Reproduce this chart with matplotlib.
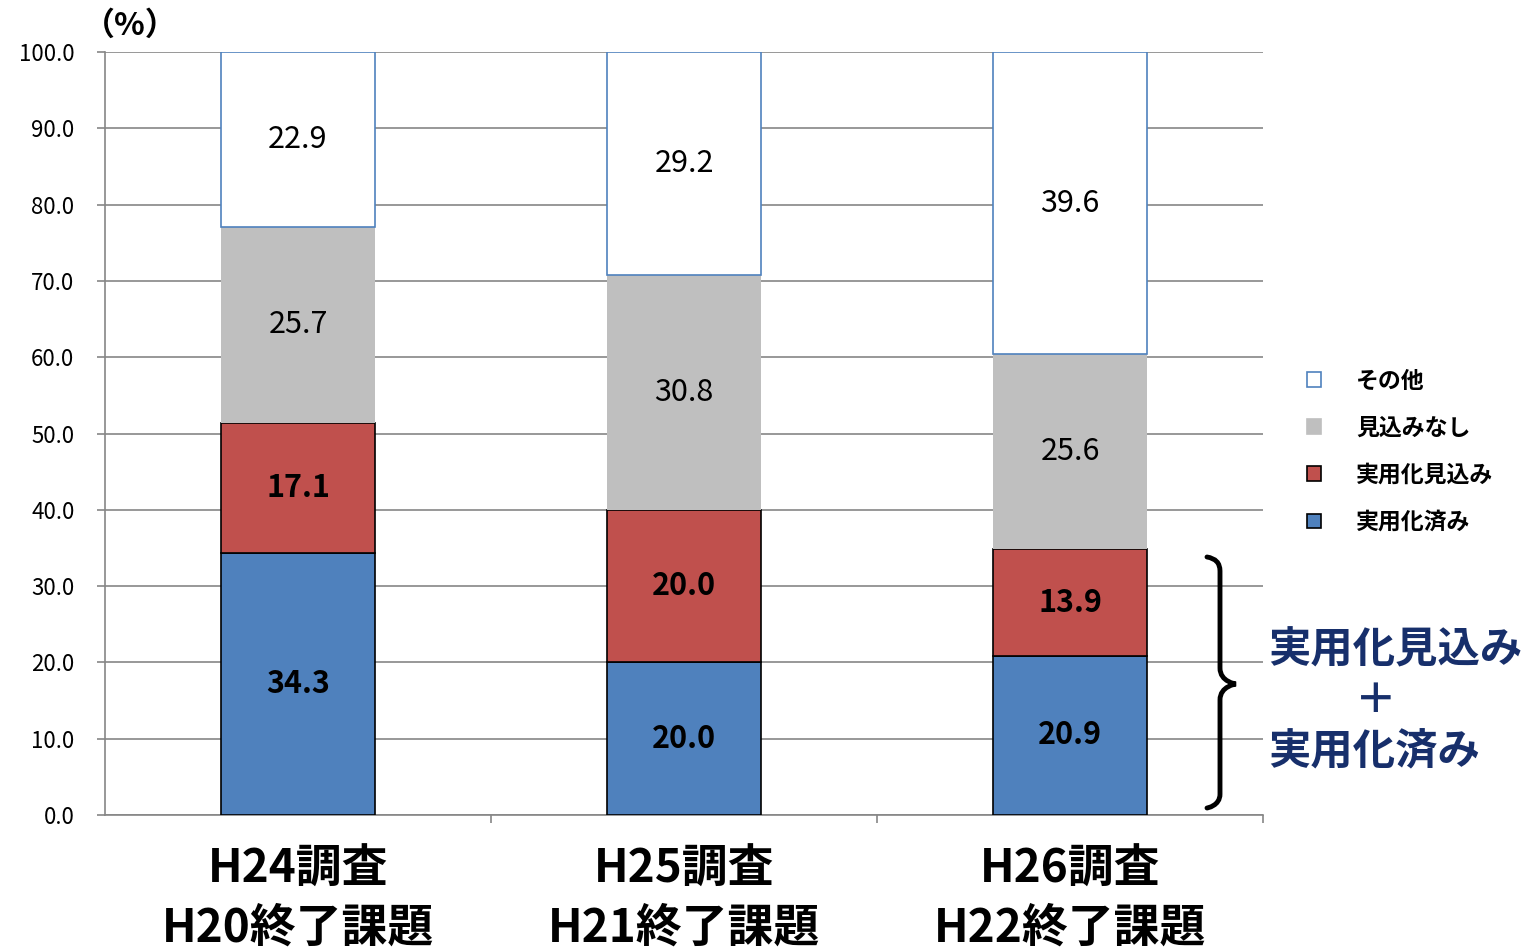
import numpy as np
import matplotlib.pyplot as plt
from matplotlib.path import Path
from matplotlib.patches import PathPatch, Patch

plt.rcParams["font.family"] = ["Noto Sans CJK JP", "DejaVu Sans"]

categories = ["H24調査\nH20終了課題", "H25調査\nH21終了課題", "H26調査\nH22終了課題"]
jitsuyou_zumi = [34.3, 20.0, 20.9]
jitsuyou_mikomi = [17.1, 20.0, 13.9]
mikomi_nashi = [25.7, 30.8, 25.6]
sonota = [22.9, 29.2, 39.6]
series_names = ["実用化済み", "実用化見込み", "見込みなし", "その他"]
yticks = np.arange(0, 101, 10)

fig = plt.figure(figsize=(15.3, 9.49), dpi=100)
ax = fig.add_axes([0.0686, 0.1412, 0.757, 0.804])

x = np.arange(len(categories))
w = 0.40
series = [jitsuyou_zumi, jitsuyou_mikomi, mikomi_nashi, sonota]
faces = ["#4F81BD", "#C0504D", "#BFBFBF", "#FFFFFF"]
edges = ["#000000", "#000000", "none", "#4F81BD"]
bolds = ["bold", "bold", "normal", "normal"]
bottom = np.zeros(len(categories))
handles = []
for vals, fc, ec, fw, name in zip(series, faces, edges, bolds, series_names):
    vals = np.array(vals)
    ax.bar(x, vals, w, bottom=bottom, color=fc, edgecolor=ec, linewidth=1.2, zorder=3)
    for xi, b, v in zip(x, bottom, vals):
        ax.text(xi, b + v / 2, f"{v:.1f}", ha="center", va="center",
                fontsize=22, fontweight=fw, color="black", zorder=4)
    bottom += vals
    handles.append(Patch(facecolor=fc, edgecolor=ec if ec != "none" else fc, linewidth=1.2))

ax.set_xlim(-0.5, 2.5)
ax.set_ylim(0, 100)
ax.set_yticks(yticks)
ax.set_yticklabels([f"{t:.1f}" for t in yticks], fontsize=16)
ax.set_xticks(x)
ax.set_xticklabels(categories, fontsize=33, fontweight="bold", linespacing=1.35)
ax.set_xticks([0.5, 1.5, 2.5], minor=True)
ax.tick_params(axis="x", which="major", length=0, pad=23)
ax.tick_params(axis="x", which="minor", length=6, color="#868686", width=1.2)
ax.tick_params(axis="y", length=6, color="#868686", width=1.2, pad=16)
ax.grid(axis="y", color="#868686", linewidth=1.2, zorder=0)
ax.set_axisbelow(True)
for s in ["top", "right"]:
    ax.spines[s].set_visible(False)
for s in ["left", "bottom"]:
    ax.spines[s].set_color("#868686")
    ax.spines[s].set_linewidth(1.2)

fig.text(0.054, 0.973, "（%）", fontsize=23, fontweight="bold", va="center", ha="left")

leg = ax.legend(handles[::-1], series_names[::-1], loc="center left",
                bbox_to_anchor=(1.02, 0.476), frameon=False,
                prop={"weight": "bold", "size": 16.5}, handlelength=0.6,
                handleheight=0.6, handletextpad=1.55, labelspacing=1.05)

# brace on the right of the last bar
x0, x1, x2 = 1207, 1220, 1236
ytop, ymid, ybot = 949 - 557, 949 - 684, 949 - 808
verts = [
    (x0, ytop), (x1, ytop - 2), (x1, ytop - 14),
    (x1, ymid + 16),
    (x1, ymid + 2), (x2, ymid), (x2, ymid),
    (x2, ymid), (x1, ymid - 2), (x1, ymid - 16),
    (x1, ybot + 14),
    (x1, ybot + 2), (x0, ybot), (x0, ybot),
]
codes = [Path.MOVETO, Path.CURVE3, Path.CURVE3, Path.LINETO,
         Path.CURVE4, Path.CURVE4, Path.CURVE4,
         Path.CURVE4, Path.CURVE4, Path.CURVE4, Path.LINETO,
         Path.CURVE4, Path.CURVE4, Path.CURVE4]
verts = [(vx / 1530, vy / 949) for vx, vy in verts]
fig.add_artist(PathPatch(Path(verts, codes), transform=fig.transFigure,
                         facecolor="none", edgecolor="black", linewidth=3.5,
                         capstyle="round"))

navy = "#172F6B"
fig.text(1268 / 1530, 1 - 650 / 949, "実用化見込み", fontsize=30.5, fontweight="bold",
         color=navy, ha="left", va="center")
fig.text(1376 / 1530, 1 - 701 / 949, "＋", fontsize=30, fontweight="bold",
         color=navy, ha="center", va="center")
fig.text(1268 / 1530, 1 - 752 / 949, "実用化済み", fontsize=30.5, fontweight="bold",
         color=navy, ha="left", va="center")

fig.savefig("out.png", dpi=100)
